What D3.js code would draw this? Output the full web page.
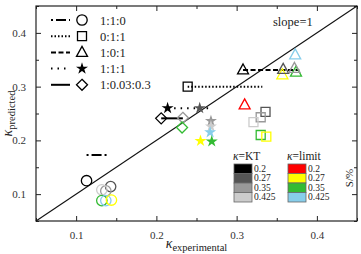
<!DOCTYPE html>
<html lang="en">
<head>
  <meta charset="UTF-8">
  <script src="https://cdn.jsdelivr.net/npm/d3@7"></script>
  <style>
    body { margin: 0; background: #fff; }
  </style>
</head>
<body>
  <div id="chart"></div>
  <script>
    /*----------------------- data -----------------------*/
    const seriesNames = ["1:1:0", "0:1:1", "1:0:1", "1:1:1", "1:0.03:0.3"];
    const seriesSymbols = ["circle", "square", "triangle", "star", "diamond"];
    const seriesDash = ["2,3,10,3", "1.5,2", "5,2.5", "1.5,5", null];
    // horizontal range lines: [x start, x end, y]
    const rangeLines = [
      [0.113, 0.138, 0.173],
      [0.239, 0.332, 0.300],
      [0.308, 0.378, 0.331],
      [0.214, 0.266, 0.260],
      [0.206, 0.233, 0.241]
    ];
    // points: [kappa experimental, kappa predicted, colour key]
    const circlePts = [
      [0.113, 0.125, "K0"], [0.143, 0.114, "K1"], [0.137, 0.106, "K2"], [0.132, 0.108, "K3"],
      [0.132, 0.088, "L2"], [0.137, 0.088, "L3"], [0.144, 0.089, "L1"]
    ];
    const squarePts = [
      [0.239, 0.300, "K0"], [0.336, 0.253, "K1"], [0.330, 0.243, "K2"], [0.321, 0.234, "K3"],
      [0.330, 0.210, "L2"], [0.337, 0.207, "L1"]
    ];
    const trianglePts = [
      [0.308, 0.331, "K0"], [0.310, 0.266, "L0"], [0.357, 0.322, "L1"], [0.358, 0.332, "K1"],
      [0.374, 0.327, "L2"], [0.372, 0.334, "K2"], [0.373, 0.359, "L3"]
    ];
    const starPts = [
      [0.214, 0.260, "K0"], [0.254, 0.260, "K1"], [0.268, 0.236, "K2"], [0.268, 0.226, "K3"],
      [0.267, 0.215, "L3"], [0.255, 0.199, "L1"], [0.269, 0.198, "L2"]
    ];
    const diamondPts = [
      [0.206, 0.241, "K0"], [0.233, 0.242, "K2"], [0.232, 0.224, "L2"]
    ];
    const allPts = [circlePts, squarePts, trianglePts, starPts, diamondPts];

    const sLabels = ["0.2", "0.27", "0.35", "0.425"];
    const ktColors = ["#000000", "#555555", "#999999", "#cccccc"];
    const limitColors = ["#ff0000", "#ffff00", "#33bb33", "#87ceeb"];
    const xTicks = [0.1, 0.2, 0.3, 0.4];
    const yTicks = [0.1, 0.2, 0.3, 0.4];
    const minorTicks = [0.05, 0.15, 0.25, 0.35, 0.45];

    /*---------------------- setup -----------------------*/
    const SERIF = "'Liberation Serif', 'DejaVu Serif', 'Times New Roman', serif";
    const width = 361, height = 254;
    const m = { left: 36, right: 4, top: 6, bottom: 33 };
    const svg = d3.select("#chart").append("svg")
      .attr("width", width).attr("height", height)
      .attr("font-family", SERIF);

    const x = d3.scaleLinear().domain([0.05, 0.45]).range([m.left, width - m.right]);
    const y = d3.scaleLinear().domain([0.05, 0.45]).range([height - m.bottom, m.top]);

    const colorOf = k => (k[0] === "K" ? ktColors : limitColors)[+k[1]];

    // symbol paths
    const symbolPath = (type) => {
      switch (type) {
        case "circle": return d3.symbol(d3.symbolCircle, Math.PI * 5.2 * 5.2)();
        case "square": return "M-4.5,-4.5H4.5V4.5H-4.5Z";
        case "triangle": return "M0,-6L5.5,4L-5.5,4Z";
        case "star": return d3.symbol(d3.symbolStar, 45)();
        case "diamond": return "M0,-5.5L5.5,0L0,5.5L-5.5,0Z";
      }
    };

    /*---------------------- axes ------------------------*/
    const fmt = d3.format(".1f");
    const addAxis = (axis, tx, ty) => svg.append("g")
      .attr("transform", `translate(${tx},${ty})`)
      .call(axis)
      .call(g => g.select(".domain").remove())
      .attr("font-family", SERIF);

    addAxis(d3.axisBottom(x).tickValues(xTicks).tickFormat(fmt).tickSize(-5).tickPadding(10), 0, y(0.05));
    addAxis(d3.axisBottom(x).tickValues(minorTicks).tickFormat("").tickSize(-3), 0, y(0.05));
    addAxis(d3.axisTop(x).tickValues(xTicks).tickFormat("").tickSize(-5), 0, y(0.45));
    addAxis(d3.axisTop(x).tickValues(minorTicks).tickFormat("").tickSize(-3), 0, y(0.45));
    addAxis(d3.axisLeft(y).tickValues(yTicks).tickFormat(fmt).tickSize(-5).tickPadding(10), x(0.05), 0);
    addAxis(d3.axisLeft(y).tickValues(minorTicks).tickFormat("").tickSize(-3), x(0.05), 0);
    addAxis(d3.axisRight(y).tickValues(yTicks).tickFormat("").tickSize(-5), x(0.45), 0);
    addAxis(d3.axisRight(y).tickValues(minorTicks).tickFormat("").tickSize(-3), x(0.45), 0);
    svg.selectAll(".tick text").attr("font-size", 11).attr("fill", "#333");
    svg.selectAll(".tick line").attr("stroke", "#222");

    svg.append("rect")
      .attr("x", x(0.05)).attr("y", y(0.45))
      .attr("width", x(0.45) - x(0.05)).attr("height", y(0.05) - y(0.45))
      .attr("fill", "none").attr("stroke", "#222").attr("stroke-width", 1.2);

    // slope = 1 line
    svg.append("line")
      .attr("x1", x(0.05)).attr("y1", y(0.05)).attr("x2", x(0.45)).attr("y2", y(0.45))
      .attr("stroke", "#111").attr("stroke-width", 1.1);
    svg.append("text").attr("x", 273).attr("y", 26).attr("font-size", 12.5)
      .attr("fill", "#222").text("slope=1");

    /*----------------- range lines & points ---------------*/
    rangeLines.forEach((r, i) => {
      svg.append("line")
        .attr("x1", x(r[0])).attr("x2", x(r[1])).attr("y1", y(r[2])).attr("y2", y(r[2]))
        .attr("stroke", "#000").attr("stroke-width", 2)
        .attr("stroke-dasharray", seriesDash[i]);
    });

    allPts.forEach((pts, i) => {
      const filled = seriesSymbols[i] === "star";
      svg.append("g").selectAll("path")
        .data(pts)
        .join("path")
        .attr("d", symbolPath(seriesSymbols[i]))
        .attr("transform", d => `translate(${x(d[0])},${y(d[1])})`)
        .attr("fill", d => filled ? colorOf(d[2]) : "none")
        .attr("stroke", d => filled ? "none" : colorOf(d[2]))
        .attr("stroke-width", 1.3);
    });

    /*---------------------- legend ------------------------*/
    const leg = svg.append("g");
    seriesNames.forEach((name, i) => {
      const ly = 20 + i * 16.2;
      leg.append("line").attr("x1", 51).attr("x2", 70).attr("y1", ly).attr("y2", ly)
        .attr("stroke", "#000").attr("stroke-width", 2)
        .attr("stroke-dasharray", seriesDash[i]);
      leg.append("path").attr("d", symbolPath(seriesSymbols[i]))
        .attr("transform", `translate(82,${ly})`)
        .attr("fill", seriesSymbols[i] === "star" ? "#000" : "none")
        .attr("stroke", seriesSymbols[i] === "star" ? "none" : "#000")
        .attr("stroke-width", 1.3);
      leg.append("text").attr("x", 100).attr("y", ly + 4.5).attr("font-size", 12.5)
        .attr("fill", "#222").text(name);
    });

    // colour key for S
    const drawKey = (x0, title, colors) => {
      const gk = svg.append("g");
      const t = gk.append("text").attr("x", x0 - 1).attr("y", 160).attr("font-size", 11.5).attr("fill", "#222");
      t.append("tspan").style("font-style", "italic").text("κ");
      t.append("tspan").text(title);
      colors.forEach((c, i) => {
        gk.append("rect").attr("x", x0).attr("y", 164 + i * 9.5)
          .attr("width", 18).attr("height", 9.5)
          .attr("fill", c).attr("stroke", "#666").attr("stroke-width", 0.8);
        gk.append("text").attr("x", x0 + 20).attr("y", 171.5 + i * 9.5)
          .attr("font-size", 9.5).attr("fill", "#222").text(sLabels[i]);
      });
    };
    drawKey(234, "=KT", ktColors);
    drawKey(288, "=limit", limitColors);
    svg.append("text").attr("transform", "translate(353,178) rotate(-90)")
      .attr("text-anchor", "middle").attr("font-size", 11).attr("fill", "#222").text("S/%");

    /*------------------- axis titles ----------------------*/
    const xt = svg.append("text").attr("x", (x(0.05) + x(0.45)) / 2).attr("y", 248)
      .attr("text-anchor", "middle").attr("fill", "#222");
    xt.append("tspan").attr("font-size", 14).style("font-style", "italic").text("κ");
    xt.append("tspan").attr("font-size", 10.5).attr("dy", 3).text("experimental");

    const yt = svg.append("text").attr("transform", `translate(12,${(y(0.05) + y(0.45)) / 2}) rotate(-90)`)
      .attr("text-anchor", "middle").attr("fill", "#222");
    yt.append("tspan").attr("font-size", 14).style("font-style", "italic").text("κ");
    yt.append("tspan").attr("font-size", 10.5).attr("dy", 3).text("predicted");
  </script>
</body>
</html>
